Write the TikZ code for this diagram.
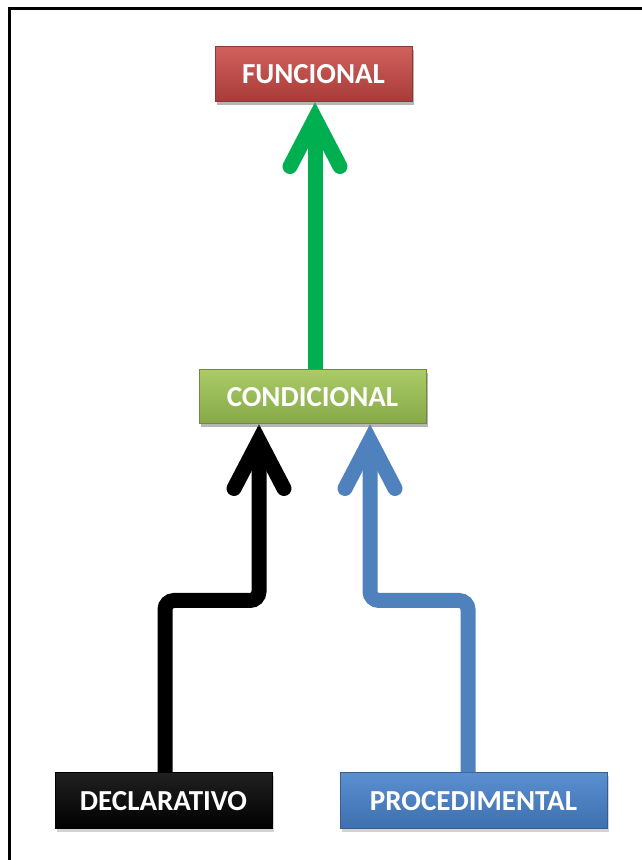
\documentclass[tikz,border=0pt]{standalone}
\usepackage{fontspec}
\setmainfont{Carlito}
\usetikzlibrary{shadows,calc}
\definecolor{redA}{HTML}{D0605C}
\definecolor{redB}{HTML}{A83B38}
\definecolor{redD}{HTML}{8C3836}
\definecolor{grnA}{HTML}{AACB66}
\definecolor{grnB}{HTML}{86A848}
\definecolor{grnD}{HTML}{71893F}
\definecolor{bluA}{HTML}{5A8FD0}
\definecolor{bluB}{HTML}{3E6FAE}
\definecolor{bluD}{HTML}{385D8A}
\definecolor{blkA}{HTML}{202020}
\definecolor{blkB}{HTML}{000000}
\definecolor{arrgreen}{HTML}{00B050}
\definecolor{arrblue}{HTML}{4F81BD}
\tikzset{
  box/.style={rectangle, inner sep=0pt, text=white,
    font=\fontsize{29}{31}\selectfont\bfseries,
    drop shadow={shadow xshift=2pt, shadow yshift=-3pt, opacity=0.35}},
  redbox/.style={box, top color=redA, bottom color=redB, draw=redD, line width=1pt},
  grnbox/.style={box, top color=grnA, bottom color=grnB, draw=grnD, line width=1pt},
  blubox/.style={box, top color=bluA, bottom color=bluB, draw=bluD, line width=1pt},
  blkbox/.style={box, top color=blkA, bottom color=blkB, draw=black, line width=1pt},
  shaft/.style={line width=15pt, line cap=butt, rounded corners=9pt},
  head/.style={line width=15pt, line cap=round, line join=miter},
}
\begin{document}
\begin{tikzpicture}[x=1pt,y=1pt]
\useasboundingbox (0,0) rectangle (641,860);
% frame
\draw[line width=3pt, black] (9.5,-2) -- (9.5,851.5) -- (645,851.5);
% boxes
\node[redbox, minimum width=197pt, minimum height=55pt] (func) at (313.5,785.5) {FUNCIONAL};
\node[grnbox, minimum width=227pt, minimum height=54pt] (cond) at (312.5,463) {CONDICIONAL};
\node[blkbox, minimum width=217pt, minimum height=56pt] (decl) at (163.5,59) {DECLARATIVO};
\node[blubox, minimum width=267pt, minimum height=56pt] (proc) at (473.5,59) {PROCEDIMENTAL};
% green arrow
\coordinate (gtip) at ($(func.south)+(1.5,-16)$);
\draw[arrgreen, shaft] ($(cond.north)+(2.5,-15)$) -- (gtip);
\draw[arrgreen, head] ($(gtip)+(-25,-48)$) -- (gtip) -- ($(gtip)+(25,-48)$);
% black arrow
\coordinate (btip) at ($(cond.south)+(-53.5,-16)$);
\draw[black, shaft] ($(decl.north)+(1.5,0)$) -- ++(0,172) -| (btip);
\draw[black, head] ($(btip)+(-25,-48)$) -- (btip) -- ($(btip)+(25,-48)$);
% blue arrow
\coordinate (ctip) at ($(cond.south)+(57.5,-16)$);
\draw[arrblue, shaft] ($(proc.north)+(-5.5,0)$) -- ++(0,172) -| (ctip);
\draw[arrblue, head] ($(ctip)+(-25,-48)$) -- (ctip) -- ($(ctip)+(25,-48)$);
% redraw boxes above arrow ends
\node[redbox, minimum width=197pt, minimum height=55pt] at (func) {FUNCIONAL};
\node[grnbox, minimum width=227pt, minimum height=54pt] at (cond) {CONDICIONAL};
\end{tikzpicture}
\end{document}
